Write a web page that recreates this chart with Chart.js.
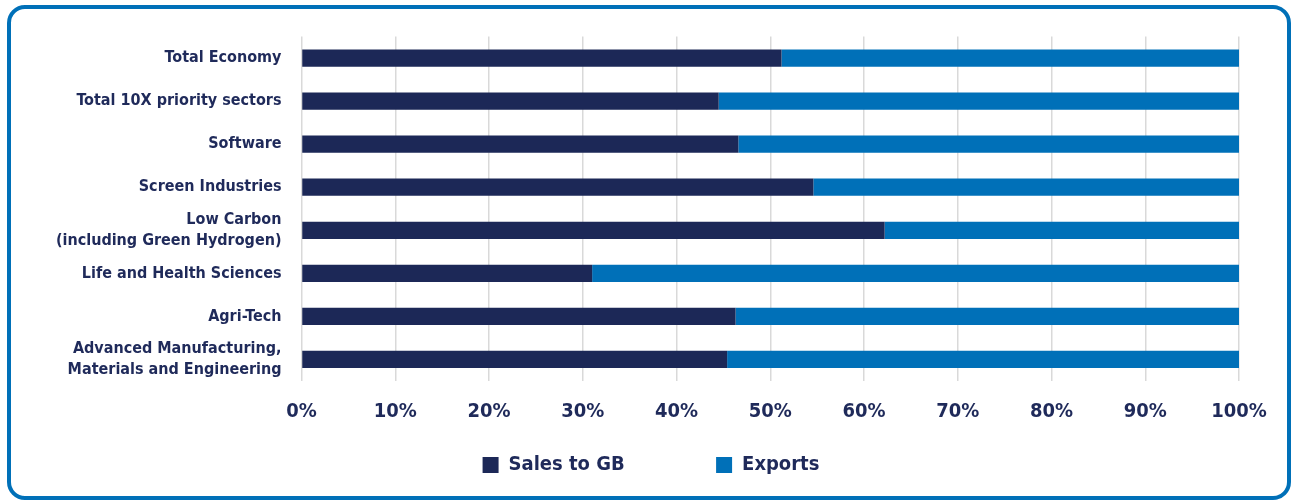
<!DOCTYPE html>
<html lang="en">

<head>
    <meta charset="UTF-8">
    <title>Sales to GB vs Exports</title>
    <script src="https://cdn.jsdelivr.net/npm/chart.js"></script>
    <style>
        body {
            margin: 0;
            background: #ffffff;
            width: 1292px;
            height: 502px;
            overflow: hidden;
            position: relative;
        }

        #frame {
            position: absolute;
            left: 7px;
            top: 5px;
            width: 1284px;
            height: 495px;
            box-sizing: border-box;
            border: 4px solid #0070b8;
            border-radius: 18px;
            pointer-events: none;
        }

        #wrap {
            position: absolute;
            left: 0;
            top: 0;
            width: 1292px;
            height: 502px;
        }
    </style>
</head>

<body>
    <div id="wrap"><canvas id="sectorChart"></canvas></div>
    <div id="frame"></div>

    <script>
        const sectors = [
            'Total Economy',
            'Total 10X priority sectors',
            'Software',
            'Screen Industries',
            ['Low Carbon', '(including Green Hydrogen)'],
            'Life and Health Sciences',
            'Agri-Tech',
            ['Advanced Manufacturing,', 'Materials and Engineering']
        ];
        const salesToGB = [51.2, 44.5, 46.6, 54.6, 62.2, 31.0, 46.3, 45.4];
        const exportsShare = [48.8, 55.5, 53.4, 45.4, 37.8, 69.0, 53.7, 54.6];
        const xTicks = ['0%', '10%', '20%', '30%', '40%', '50%', '60%', '70%', '80%', '90%', '100%'];

        const navy = '#1c2857';
        const blue = '#0070b8';
        const textColor = '#1f2a5a';
        const fontFamily = "'DejaVu Sans Condensed', 'Liberation Sans Narrow', sans-serif";

        // legend sits a bit right of the canvas centre in the original
        const legendShift = {
            id: 'legendShift',
            afterLayout(chart) {
                chart.legend.left = 63;
            }
        };

        const ctx = document.getElementById('sectorChart').getContext('2d');
        const sectorChart = new Chart(ctx, {
            type: 'bar',
            data: {
                labels: sectors,
                datasets: [{
                    label: 'Sales to GB',
                    data: salesToGB,
                    backgroundColor: navy,
                    borderWidth: 0
                }, {
                    label: 'Exports',
                    data: exportsShare,
                    backgroundColor: blue,
                    borderWidth: 0
                }]
            },
            options: {
                indexAxis: 'y',
                responsive: true,
                maintainAspectRatio: false,
                animation: false,
                layout: {
                    padding: { left: 0, right: 53, top: 36.5, bottom: 17 }
                },
                datasets: {
                    bar: {
                        barPercentage: 0.8,
                        categoryPercentage: 0.5
                    }
                },
                scales: {
                    x: {
                        stacked: true,
                        min: 0,
                        max: 100,
                        border: { display: false },
                        grid: {
                            color: '#d9d9d9',
                            lineWidth: 1.5,
                            drawTicks: false
                        },
                        ticks: {
                            stepSize: 10,
                            padding: 18.5,
                            color: textColor,
                            font: { family: fontFamily, size: 20, weight: 'bold' },
                            callback: (v, i) => xTicks[i]
                        },
                        afterFit: (scale) => { scale.height = 64; }
                    },
                    y: {
                        stacked: true,
                        border: { display: false },
                        grid: { display: false, drawTicks: false },
                        ticks: {
                            autoSkip: false,
                            padding: 20,
                            color: textColor,
                            font: { family: fontFamily, size: 16, weight: 'bold', lineHeight: 1.3 }
                        },
                        afterFit: (scale) => {
                            scale.width = 301.5;
                            scale.paddingTop = 0;
                            scale.paddingBottom = 0;
                        }
                    }
                },
                plugins: {
                    legend: {
                        position: 'bottom',
                        labels: {
                            boxWidth: 16,
                            boxHeight: 16,
                            padding: 10,
                            color: textColor,
                            font: { family: fontFamily, size: 20, weight: 'bold' },
                            generateLabels: (chart) => {
                                const items = Chart.defaults.plugins.legend.labels.generateLabels(chart);
                                // widen the first entry so the two keys sit far apart
                                items[0].text = items[0].text + ' '.repeat(13);
                                return items;
                            }
                        }
                    },
                    tooltip: { enabled: false }
                }
            },
            plugins: [legendShift]
        });
    </script>
</body>

</html>
